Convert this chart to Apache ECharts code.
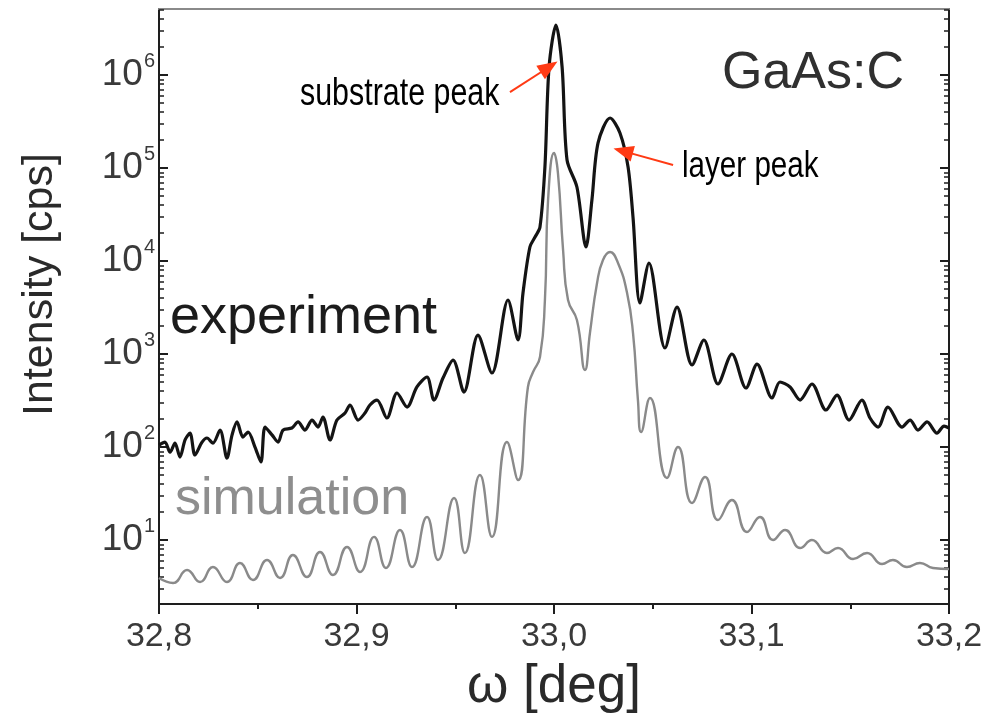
<!DOCTYPE html>
<html>
<head>
<meta charset="utf-8">
<script src="https://cdn.jsdelivr.net/npm/echarts@6/dist/echarts.min.js"></script>
<style>
  html, body { margin: 0; padding: 0; background: #fff; }
  #chart { width: 996px; height: 722px; }
</style>
</head>
<body>
<div id="chart"></div>
<script>
// omega [deg] / intensity [cps]
const expX = [
  32.8000, 32.8030, 32.8056, 32.8081, 32.8106, 32.8132, 32.8157, 32.8182, 32.8218, 32.8243,
  32.8273, 32.8309, 32.8344, 32.8370, 32.8395, 32.8425, 32.8451, 32.8486, 32.8516, 32.8537,
  32.8572, 32.8603, 32.8628, 32.8673, 32.8704, 32.8739, 32.8775, 32.8805, 32.8830, 32.8866,
  32.8901, 32.8942, 32.8967, 32.9008, 32.9043, 32.9068, 32.9104, 32.9154, 32.9205, 32.9256,
  32.9306, 32.9357, 32.9392, 32.9438, 32.9489, 32.9544, 32.9615, 32.9686, 32.9767, 32.9818,
  32.9843, 32.9878, 32.9904, 32.9929, 32.9954, 32.9975, 33.0010, 33.0041, 33.0066, 33.0116,
  33.0162, 33.0192, 33.0223, 33.0284, 33.0334, 33.0375, 33.0400, 33.0435, 33.0481, 33.0562,
  33.0623, 33.0699, 33.0759, 33.0830, 33.0901, 33.0972, 33.1028, 33.1104, 33.1144, 33.1195,
  33.1246, 33.1306, 33.1377, 33.1433, 33.1494, 33.1559, 33.1600, 33.1641, 33.1691, 33.1762,
  33.1803, 33.1843, 33.1889, 33.1939, 33.1975, 33.2000
];
const expY = [
  105, 113, 88, 110, 78, 119, 141, 82, 113, 125,
  110, 152, 76, 135, 186, 128, 145, 100, 69, 164,
  135, 113, 152, 160, 186, 152, 195, 164, 210, 119,
  195, 232, 283, 195, 232, 283, 320, 205, 381, 269,
  442, 566, 320, 552, 861, 390, 1600, 625, 3810, 1415,
  4530, 14150, 18100, 23200, 102500, 1220000, 3450000, 1220000, 122000, 62500,
  14150, 45300, 186000, 345000, 238000, 102500, 29700, 3535, 9510, 1160,
  3200, 762, 1415, 476, 1000, 431, 780, 337, 500, 442,
  320, 476, 250, 362, 195, 320, 205, 164, 269, 164,
  195, 152, 186, 141, 168, 160
];
const simX = [
  32.8000, 32.8071, 32.8142, 32.8208, 32.8273, 32.8344, 32.8410, 32.8476, 32.8547, 32.8613,
  32.8678, 32.8749, 32.8815, 32.8881, 32.8952, 32.9018, 32.9089, 32.9149, 32.9220, 32.9281,
  32.9357, 32.9413, 32.9494, 32.9549, 32.9625, 32.9686, 32.9762, 32.9818, 32.9868, 32.9894,
  32.9929, 32.9954, 32.9970, 33.0000, 33.0020, 33.0046, 33.0071, 33.0116, 33.0157, 33.0182,
  33.0218, 33.0248, 33.0284, 33.0324, 33.0370, 33.0400, 33.0425, 33.0441, 33.0486, 33.0572,
  33.0628, 33.0699, 33.0765, 33.0830, 33.0901, 33.0977, 33.1043, 33.1109, 33.1170, 33.1246,
  33.1306, 33.1382, 33.1438, 33.1514, 33.1585, 33.1661, 33.1716, 33.1787, 33.1853, 33.1919,
  33.2000
];
const simY = [
  3.9, 3.45, 4.76, 3.53, 5.12, 3.53, 5.66, 3.71, 6.1, 3.9,
  6.9, 4.0, 7.43, 4.2, 8.41, 4.53, 10.8, 5.0, 12.8, 5.12,
  17.7, 6.1, 28.3, 7.25, 50, 10.8, 113, 44.2, 442, 640,
  929, 3810, 45300, 145000, 88300, 13100, 3810, 2320, 673, 1683,
  5800, 10250, 12500, 9510, 4530, 1683, 320, 145, 337, 46.4,
  100, 25, 47.6, 16.4, 26.9, 12.2, 17.7, 10, 12.8, 8.2,
  10, 7.25, 8.2, 6.25, 7.25, 5.52, 6.1, 5.12, 5.66, 5.0,
  4.88
];

const xRange = [32.8, 33.2];
const yRange = [2.05, 5.13e6];
const yMajorTicks = [10, 100, 1e3, 1e4, 1e5, 1e6];
const yMinorTicks = [];
for (let d = 1; d <= 1e6; d *= 10) {
  for (let k = 2; k <= 9; k++) yMinorTicks.push(k * d);
}

// annotation arrows: [from, to] in data space
const arrowSubstrate = [[32.9777, 6.56e5], [32.9975, 1.22e6]];
const arrowLayer = [[33.0603, 1.08e5], [33.0350, 1.52e5]];

const axisColor = '#1e1e1e';
const labelFont = 'Liberation Sans';

const chart = echarts.init(document.getElementById('chart'));

function logAxis(pos, opts) {
  return Object.assign({
    type: 'log',
    logBase: 10,
    position: pos,
    min: yRange[0],
    max: yRange[1],
    splitLine: { show: false },
    axisLine: { show: true, lineStyle: { color: axisColor, width: 2 } },
    axisLabel: { show: false },
  }, opts);
}

const option = {
  animation: false,
  backgroundColor: '#fff',
  grid: { left: 159, right: 47, top: 9, bottom: 118 },
  xAxis: [
    {
      type: 'value',
      min: xRange[0],
      max: xRange[1],
      interval: 0.1,
      name: 'ω [deg]',
      nameLocation: 'middle',
      nameGap: 57,
      nameTextStyle: { fontFamily: labelFont, fontSize: 53, color: '#2a2a2a' },
      splitLine: { show: false },
      axisLine: { lineStyle: { color: axisColor, width: 2 } },
      axisTick: { inside: false, length: 10, lineStyle: { color: axisColor, width: 2 } },
      minorTick: { show: true, splitNumber: 2, length: 5, lineStyle: { color: axisColor, width: 2 } },
      axisLabel: {
        margin: 16,
        fontFamily: labelFont,
        fontSize: 34,
        color: '#3a3a3a',
        formatter: (v) => v.toFixed(1).replace('.', ','),
      },
    },
    {
      type: 'value',
      position: 'top',
      min: xRange[0],
      max: xRange[1],
      splitLine: { show: false },
      axisLine: { show: true, lineStyle: { color: '#8a8a8a', width: 2 } },
      axisTick: { show: false },
      axisLabel: { show: false },
    },
  ],
  yAxis: [
    logAxis('left', {
      name: 'Intensity [cps]',
      nameLocation: 'middle',
      nameGap: 97,
      nameTextStyle: { fontFamily: labelFont, fontSize: 43, color: '#2a2a2a', padding: [0, 0, 0, 44] },
      axisTick: { inside: true, length: 9, customValues: yMajorTicks, lineStyle: { color: axisColor, width: 2 } },
      axisLabel: {
        show: true,
        margin: 4,
        customValues: yMajorTicks,
        formatter: (v) => '{b|10}{s|' + Math.round(Math.log10(v)) + '}',
        rich: {
          b: { fontFamily: labelFont, fontSize: 37, color: '#3a3a3a' },
          s: { fontFamily: labelFont, fontSize: 20, color: '#3a3a3a', verticalAlign: 'bottom', padding: [0, 0, 28, 1] },
        },
      },
    }),
    logAxis('left', {
      axisLine: { show: false },
      axisTick: { inside: true, length: 5, customValues: yMinorTicks, lineStyle: { color: axisColor, width: 1.5 } },
    }),
    logAxis('right', {
      axisTick: { inside: true, length: 9, customValues: yMajorTicks, lineStyle: { color: axisColor, width: 2 } },
    }),
    logAxis('right', {
      axisLine: { show: false },
      axisTick: { inside: true, length: 5, customValues: yMinorTicks, lineStyle: { color: axisColor, width: 1.5 } },
    }),
  ],
  graphic: [
    { type: 'text', left: 722, top: 48, style: { text: 'GaAs:C', font: '52px ' + labelFont, fill: '#303030' } },
    { type: 'text', left: 170, top: 291, style: { text: 'experiment', font: '54px ' + labelFont, fill: '#1c1c1c' } },
    { type: 'text', left: 175, top: 474, style: { text: 'simulation', font: '52px ' + labelFont, fill: '#8e8e8e' } },
    { type: 'text', x: 300, y: 76, scaleX: 0.8, style: { text: 'substrate peak', font: '38px ' + labelFont, fill: '#000' } },
    { type: 'text', x: 682, y: 148, scaleX: 0.8, style: { text: 'layer peak', font: '37px ' + labelFont, fill: '#000' } },
  ],
  series: [
    {
      name: 'simulation',
      type: 'line',
      data: simX.map((x, i) => [x, simY[i]]),
      showSymbol: false,
      smooth: 0.5,
      lineStyle: { color: '#8a8a8a', width: 2.4 },
      z: 2,
    },
    {
      name: 'experiment',
      type: 'line',
      data: expX.map((x, i) => [x, expY[i]]),
      showSymbol: false,
      smooth: 0.3,
      lineStyle: { color: '#141414', width: 3.2 },
      z: 3,
      markLine: {
        silent: true,
        symbol: ['none', 'triangle'],
        symbolSize: [16, 20],
        label: { show: false },
        lineStyle: { color: '#ff3a14', width: 2, type: 'solid' },
        data: [
          [{ coord: arrowSubstrate[0] }, { coord: arrowSubstrate[1] }],
          [{ coord: arrowLayer[0] }, { coord: arrowLayer[1] }],
        ],
      },
    },
  ],
};

chart.setOption(option);
</script>
</body>
</html>
